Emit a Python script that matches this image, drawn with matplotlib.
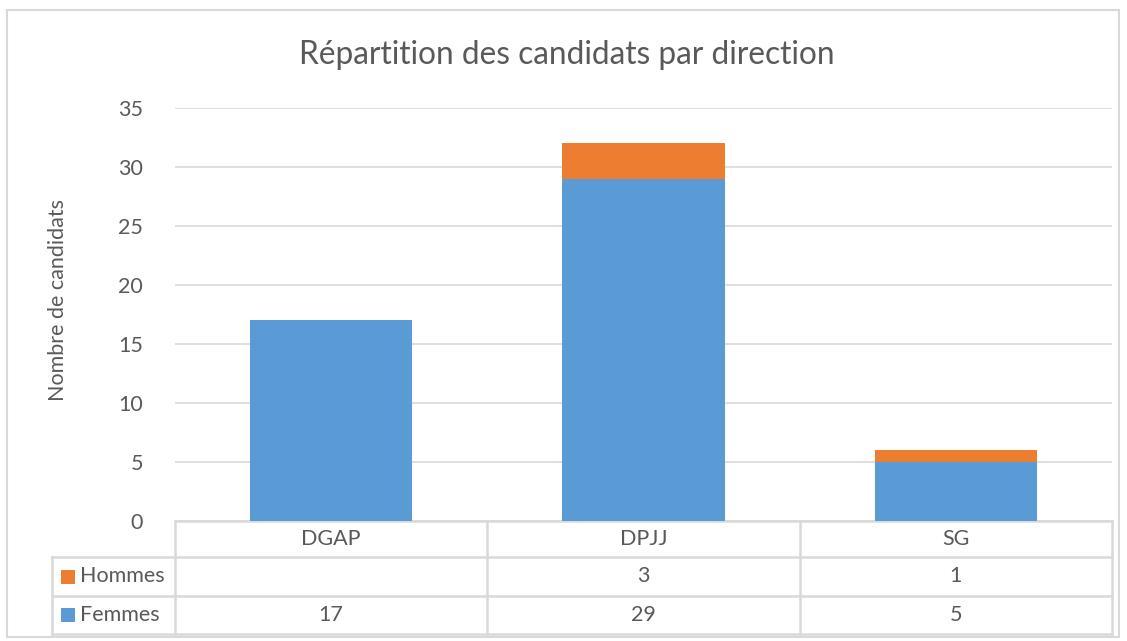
import numpy as np
import matplotlib.pyplot as plt
from matplotlib.patches import Rectangle
from matplotlib.lines import Line2D

# -------------------------------
# Data
# -------------------------------
categories = ["DGAP", "DPJJ", "SG"]
femmes = [17, 29, 5]
hommes = [None, 3, 1]  # pas d'homme pour DGAP
series_names = ["Hommes", "Femmes"]

BLUE = "#5B9BD5"
ORANGE = "#ED7D31"
GRID = "#D9D9D9"
TXT = "#595959"
FS = 15.5

plt.rcParams["font.family"] = ["Lato", "DejaVu Sans"]

W, H = 1127, 641
fig = plt.figure(figsize=(W / 100, H / 100), dpi=100)

# plot area in pixels
L, R, T, B = 175, 1112, 108, 521
ax = fig.add_axes([L / W, 1 - B / H, (R - L) / W, (B - T) / H])

x = np.arange(len(categories))
f = np.array(femmes, dtype=float)
h = np.array([v if v is not None else 0 for v in hommes], dtype=float)

ax.bar(x, f, width=0.52, color=BLUE, zorder=3)
ax.bar(x, h, width=0.52, bottom=f, color=ORANGE, zorder=3)

ax.set_xlim(-0.5, len(categories) - 0.5)
ax.set_ylim(0, 35)
ax.set_yticks(range(0, 36, 5))
ax.set_xticks([])
ax.grid(True, axis="y", color=GRID, linewidth=1.2, zorder=0)
for s in ax.spines.values():
    s.set_visible(False)
ax.tick_params(axis="y", length=0, pad=23, labelsize=FS, labelcolor=TXT)


# -------------------------------
# Data table under the chart
# -------------------------------
def ay(py):
    # pixel y -> axes fraction
    return (B - py) / (B - T)


def ax_x(px):
    return (px - L) / (R - L)


row_y = [521, 557, 596, 634]
lab_left = 52
tr = ax.transAxes
line_kw = dict(color=GRID, linewidth=1.8, transform=tr, clip_on=False)

# horizontal lines
ax.add_line(Line2D([0, 1], [ay(row_y[0])] * 2, **line_kw))
for py in row_y[1:]:
    ax.add_line(Line2D([ax_x(lab_left), 1], [ay(py)] * 2, **line_kw))
# vertical lines
for i in range(len(categories) + 1):
    xa = i / len(categories)
    ax.add_line(Line2D([xa, xa], [ay(row_y[0]), ay(row_y[-1])], **line_kw))
ax.add_line(Line2D([ax_x(lab_left)] * 2, [ay(row_y[1]), ay(row_y[-1])], **line_kw))

xt = ax.get_xaxis_transform()
hdr_y = ay((row_y[0] + row_y[1]) / 2)
hom_y = ay((row_y[1] + row_y[2]) / 2)
fem_y = ay((row_y[2] + row_y[3]) / 2)
for i, cat in enumerate(categories):
    ax.text(i, hdr_y, cat, transform=xt, ha="center", va="center",
            fontsize=FS, color=TXT, clip_on=False)
    if hommes[i] is not None:
        ax.text(i, hom_y, str(hommes[i]), transform=xt, ha="center",
                va="center", fontsize=FS, color=TXT, clip_on=False)
    ax.text(i, fem_y, str(femmes[i]), transform=xt, ha="center",
            va="center", fontsize=FS, color=TXT, clip_on=False)

# row labels with colour keys
for name, col, yy in [("Hommes", ORANGE, hom_y), ("Femmes", BLUE, fem_y)]:
    sq = 14 / (B - T)
    ax.add_patch(Rectangle((ax_x(61), yy - sq / 2), 14 / (R - L), sq,
                           facecolor=col, edgecolor="none", transform=tr,
                           clip_on=False))
    ax.text(ax_x(80), yy, name, transform=tr, ha="left", va="center",
            fontsize=FS, color=TXT, clip_on=False)

# title and y label
fig.text(567 / W, 1 - 55 / H, "Répartition des candidats par direction",
         ha="center", va="center", fontsize=22.8, color=TXT)
fig.text(58 / W, 1 - 300 / H, "Nombre de candidats", rotation=90,
         ha="center", va="center", fontsize=FS, color=TXT)

# chart border
fig.patches.append(Rectangle((7 / W, 1 - 637 / H), 1112 / W, 627 / H,
                             transform=fig.transFigure, fill=False,
                             edgecolor=GRID, linewidth=1.5))

fig.savefig("out.png", dpi=100)
